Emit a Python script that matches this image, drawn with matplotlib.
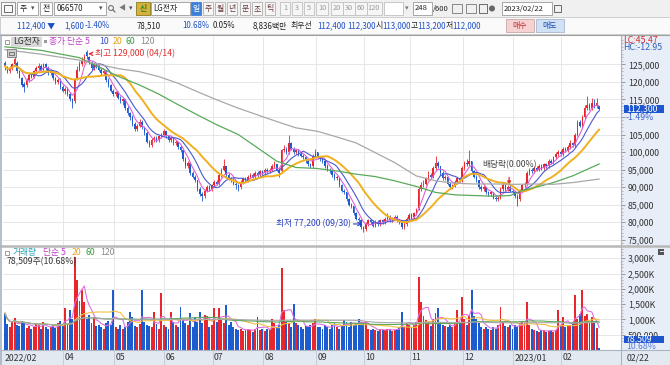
import numpy as np
import pandas as pd
import matplotlib
matplotlib.use('Agg')
import matplotlib.pyplot as plt
from matplotlib.patches import Rectangle, Circle
from matplotlib.ticker import MultipleLocator, FixedLocator, FuncFormatter

plt.rcParams['font.family'] = ['Noto Sans CJK KR', 'DejaVu Sans']
plt.rcParams['font.size'] = 6.5

# ---- daily candles (thousand won), 2022/02 ~ 2023/02/22, 248 bars ----
opens = [
    125.5, 124.0, 123.0, 124.0, 125.0, 125.5, 123.0, 121.0, 119.5, 119.0,
    120.5, 122.0, 121.5, 123.0, 124.0, 124.5, 123.5, 125.0, 124.0, 122.5,
    123.0, 121.0, 120.0, 120.5, 118.5, 117.5, 118.0, 116.5, 115.0, 114.5,
    121.0, 123.5, 125.0, 126.0, 128.5, 127.0, 125.5, 124.0, 125.0, 124.5,
    123.5, 122.5, 123.0, 120.5, 119.0, 117.5, 116.5, 117.0, 115.5, 114.5,
    115.0, 112.5, 111.0, 110.0, 108.0, 106.5, 107.5, 108.5, 107.0, 105.5,
    103.0, 102.0, 103.5, 104.0, 103.5, 104.5, 105.0, 106.0, 104.5, 103.5,
    104.0, 102.5, 103.0, 101.5, 100.5, 98.0, 96.0, 97.0, 94.0, 93.0,
    92.0, 89.5, 88.0, 87.5, 89.0, 90.0, 89.5, 90.5, 91.5, 91.0,
    93.5, 95.0, 96.0, 93.5, 92.5, 92.0, 91.0, 90.5, 90.0, 91.5,
    92.5, 92.0, 93.0, 93.5, 93.0, 94.0, 93.5, 94.5, 94.0, 95.0,
    94.5, 95.0, 96.0, 96.5, 95.0, 94.5, 100.5, 101.0, 100.0, 102.5,
    101.0, 100.0, 100.5, 99.5, 99.0, 98.5, 97.5, 96.5, 96.0, 99.0,
    100.0, 98.5, 98.0, 97.5, 96.0, 95.0, 94.5, 93.5, 92.5, 93.0,
    90.5, 89.0, 88.5, 86.5, 85.0, 84.5, 82.5, 81.0, 80.5, 78.5,
    78.0, 79.5, 80.5, 80.0, 79.0, 80.0, 79.5, 80.5, 80.0, 81.0,
    81.5, 80.5, 81.0, 81.5, 80.5, 80.0, 78.5, 79.5, 81.0, 82.0,
    81.5, 82.5, 84.0, 89.5, 90.5, 91.0, 92.5, 93.5, 93.0, 95.5,
    97.0, 96.0, 94.0, 92.5, 93.0, 91.0, 90.0, 90.5, 91.5, 92.5,
    92.0, 95.5, 97.0, 96.5, 97.5, 94.5, 93.0, 92.0, 90.0, 89.5,
    90.0, 88.5, 88.0, 88.5, 87.0, 86.5, 87.0, 89.5, 90.5, 89.5,
    90.0, 89.0, 88.5, 87.5, 86.5, 89.0, 90.5, 91.0, 94.0, 95.0,
    94.5, 95.5, 95.0, 96.0, 95.5, 96.5, 96.0, 97.5, 97.0, 98.5,
    99.5, 100.0, 99.5, 101.0, 100.5, 101.5, 102.5, 102.0, 105.0, 108.5,
    107.5, 110.0, 112.5, 113.5, 112.5, 114.0, 113.0, 113.0]
highs = [
    126.0, 124.5, 124.5, 125.5, 128.5, 126.0, 123.5, 121.5, 120.0, 121.0,
    122.5, 122.5, 123.5, 124.5, 125.5, 125.0, 125.5, 125.5, 124.5, 123.5,
    123.5, 121.5, 121.0, 121.0, 119.0, 118.5, 118.5, 117.0, 115.5, 121.0,
    124.5, 126.0, 127.0, 128.0, 129.0, 127.5, 126.0, 125.5, 125.5, 125.0,
    124.0, 123.5, 123.0, 121.0, 119.5, 118.0, 117.5, 117.5, 116.0, 115.5,
    115.0, 113.0, 111.5, 110.5, 108.5, 108.0, 109.5, 109.0, 107.5, 106.0,
    103.5, 104.0, 104.5, 104.5, 105.0, 105.5, 106.5, 106.0, 105.0, 104.5,
    104.0, 103.5, 103.0, 102.0, 100.5, 98.5, 97.5, 97.0, 94.5, 93.5,
    92.0, 90.0, 88.5, 89.5, 90.5, 90.5, 91.0, 92.0, 92.0, 94.0,
    95.5, 98.0, 96.0, 94.0, 93.0, 92.5, 91.5, 91.0, 92.0, 93.0,
    93.0, 93.5, 94.0, 94.0, 94.5, 94.5, 95.0, 95.0, 95.5, 95.5,
    95.5, 96.5, 97.5, 96.5, 95.5, 101.0, 102.0, 101.5, 105.0, 103.0,
    101.5, 101.0, 101.0, 100.0, 99.5, 99.0, 98.0, 97.0, 99.5, 101.0,
    100.0, 99.0, 98.5, 98.0, 96.5, 95.5, 95.0, 94.0, 93.5, 93.0,
    91.0, 89.5, 88.5, 87.0, 85.5, 84.5, 83.0, 81.5, 81.0, 79.0,
    80.0, 81.0, 81.0, 80.5, 80.5, 80.5, 81.0, 81.0, 81.5, 82.5,
    82.0, 81.5, 82.0, 82.0, 81.0, 80.5, 80.0, 81.5, 82.5, 82.5,
    83.0, 84.0, 90.0, 91.5, 92.0, 93.0, 94.5, 94.0, 96.0, 98.8,
    97.5, 96.0, 94.5, 93.5, 93.0, 91.5, 91.0, 92.0, 93.0, 93.0,
    96.0, 97.5, 98.0, 100.7, 97.5, 95.0, 93.5, 92.0, 90.5, 90.5,
    90.0, 89.0, 89.0, 88.5, 87.5, 87.5, 90.0, 91.5, 91.0, 90.5,
    90.5, 89.5, 89.0, 88.0, 89.5, 91.0, 91.5, 94.5, 95.5, 95.5,
    96.0, 96.0, 96.5, 96.5, 97.0, 97.0, 98.0, 98.0, 99.0, 100.0,
    100.5, 100.5, 101.5, 101.5, 102.0, 103.5, 103.0, 105.5, 109.0, 109.0,
    110.5, 113.5, 116.0, 114.0, 115.5, 115.0, 115.5, 113.2]
lows = [
    123.5, 122.5, 122.5, 123.5, 124.5, 122.5, 121.0, 118.5, 117.0, 118.5,
    120.0, 121.0, 121.0, 122.5, 123.5, 123.0, 123.0, 123.5, 122.0, 122.0,
    120.5, 119.5, 119.5, 118.0, 117.0, 116.5, 116.0, 114.5, 112.5, 114.0,
    120.5, 123.0, 124.5, 125.5, 126.5, 125.0, 123.5, 123.5, 124.0, 123.0,
    122.0, 122.0, 120.0, 118.5, 117.0, 116.0, 116.0, 115.0, 114.0, 113.5,
    112.0, 110.5, 109.0, 107.5, 106.0, 106.0, 107.0, 106.5, 105.0, 102.5,
    101.5, 101.5, 103.0, 103.0, 103.0, 104.0, 104.5, 104.0, 103.0, 103.0,
    102.0, 102.0, 101.0, 100.0, 97.5, 95.5, 95.5, 93.5, 92.5, 91.5,
    89.0, 87.5, 86.0, 87.0, 88.5, 89.0, 89.0, 90.0, 90.5, 90.5,
    93.0, 94.5, 93.0, 92.0, 91.5, 90.5, 89.5, 89.0, 89.5, 91.0,
    91.5, 91.5, 92.5, 92.5, 92.5, 93.0, 93.0, 93.5, 93.5, 94.0,
    94.0, 94.5, 95.5, 94.5, 93.0, 94.0, 100.0, 99.5, 99.5, 100.5,
    99.5, 99.5, 99.0, 98.5, 98.0, 97.0, 96.0, 95.5, 95.5, 98.5,
    98.0, 97.5, 97.0, 95.5, 94.5, 94.0, 93.0, 92.0, 92.0, 90.0,
    88.5, 88.0, 86.0, 84.5, 84.0, 82.0, 80.5, 80.0, 78.0, 77.2,
    77.5, 79.0, 79.5, 78.5, 78.5, 79.0, 79.0, 79.5, 79.5, 80.5,
    80.0, 80.0, 80.5, 80.0, 79.5, 78.0, 78.0, 79.0, 80.5, 81.0,
    81.0, 82.0, 83.5, 89.0, 90.0, 90.5, 92.0, 92.5, 92.5, 95.0,
    95.5, 93.5, 92.0, 92.0, 90.5, 89.5, 89.5, 90.0, 91.0, 91.5,
    91.5, 95.0, 96.0, 96.0, 94.0, 92.5, 91.5, 89.5, 89.0, 89.0,
    88.0, 87.5, 87.5, 86.5, 86.0, 86.0, 86.5, 89.0, 89.0, 89.0,
    88.5, 88.0, 87.0, 84.7, 86.0, 88.5, 90.0, 90.5, 93.5, 94.0,
    94.0, 94.5, 94.5, 95.0, 95.0, 95.5, 95.5, 96.5, 96.5, 98.0,
    99.0, 99.0, 99.0, 100.0, 100.0, 101.0, 101.5, 101.5, 104.5, 107.0,
    107.0, 109.5, 112.0, 112.0, 112.0, 112.5, 112.5, 112.0]
closes = [
    124.5, 123.0, 124.0, 125.0, 126.5, 123.0, 121.5, 119.0, 118.5, 120.5,
    122.0, 121.5, 123.0, 124.0, 124.5, 123.5, 125.0, 124.0, 122.5, 123.0,
    121.0, 120.0, 120.5, 118.5, 117.5, 118.0, 116.5, 115.0, 114.0, 120.5,
    123.5, 125.0, 126.0, 127.0, 127.5, 125.5, 124.0, 125.0, 124.5, 123.5,
    122.5, 123.0, 120.5, 119.0, 117.5, 116.5, 117.0, 115.5, 114.5, 115.0,
    112.5, 111.0, 110.0, 108.0, 106.5, 107.5, 108.5, 107.0, 105.5, 103.0,
    102.0, 103.5, 104.0, 103.5, 104.5, 105.0, 106.0, 104.5, 103.5, 104.0,
    102.5, 103.0, 101.5, 100.5, 98.0, 96.0, 97.0, 94.0, 93.0, 92.0,
    89.5, 88.0, 87.5, 89.0, 90.0, 89.5, 90.5, 91.5, 91.0, 93.5,
    95.0, 96.0, 93.5, 92.5, 92.0, 91.0, 90.5, 90.0, 91.5, 92.5,
    92.0, 93.0, 93.5, 93.0, 94.0, 93.5, 94.5, 94.0, 95.0, 94.5,
    95.0, 96.0, 96.5, 95.0, 94.0, 100.5, 101.0, 100.0, 102.5, 101.0,
    100.0, 100.5, 99.5, 99.0, 98.5, 97.5, 96.5, 96.0, 99.0, 100.0,
    98.5, 98.0, 97.5, 96.0, 95.0, 94.5, 93.5, 92.5, 93.0, 90.5,
    89.0, 88.5, 86.5, 85.0, 84.5, 82.5, 81.0, 80.5, 78.5, 78.0,
    79.5, 80.5, 80.0, 79.0, 80.0, 79.5, 80.5, 80.0, 81.0, 81.5,
    80.5, 81.0, 81.5, 80.5, 80.0, 78.5, 79.5, 81.0, 82.0, 81.5,
    82.5, 83.5, 89.5, 90.5, 91.0, 92.5, 93.5, 93.0, 95.5, 97.0,
    96.0, 94.0, 92.5, 93.0, 91.0, 90.0, 90.5, 91.5, 92.5, 92.0,
    95.5, 97.0, 96.5, 97.5, 94.5, 93.0, 92.0, 90.0, 89.5, 90.0,
    88.5, 88.0, 88.5, 87.0, 86.5, 87.0, 89.5, 90.5, 89.5, 90.0,
    89.0, 88.5, 87.5, 86.5, 89.0, 90.5, 91.0, 94.0, 95.0, 94.5,
    95.5, 95.0, 96.0, 95.5, 96.5, 96.0, 97.5, 97.0, 98.5, 99.5,
    100.0, 99.5, 101.0, 100.5, 101.5, 102.5, 102.0, 105.0, 108.5, 107.5,
    110.0, 112.5, 113.5, 112.5, 114.0, 113.0, 113.9, 112.3]
# volume, thousand shares
volume = [
    1200, 850, 760, 900, 1050, 820, 780, 950, 880, 720,
    800, 690, 760, 880, 820, 700, 900, 760, 680, 740,
    810, 720, 880, 960, 790, 1360, 850, 1300, 1020, 3050,
    2290, 1600, 1960, 1580, 1020, 1150, 880, 1090, 780, 820,
    760, 700, 880, 940, 820, 1960, 760, 700, 820, 690,
    760, 900, 1250, 1090, 800, 760, 860, 1960, 900, 820,
    800, 760, 1250, 860, 700, 1850, 820, 760, 690, 1250,
    900, 820, 760, 1420, 980, 880, 820, 1200, 760, 1090,
    900, 1250, 880, 1150, 1100, 760, 820, 1360, 900, 1360,
    980, 880, 1470, 820, 900, 760, 700, 640, 690, 620,
    660, 700, 640, 600, 680, 1090, 640, 700, 620, 690,
    660, 1000, 880, 760, 820, 2670, 1300, 930, 880, 760,
    1520, 880, 820, 760, 700, 800, 760, 820, 880, 1030,
    760, 760, 700, 820, 760, 700, 820, 880, 760, 700,
    820, 980, 900, 760, 930, 820, 880, 1030, 900, 870,
    900, 700, 640, 700, 660, 620, 700, 660, 640, 700,
    680, 620, 660, 700, 760, 1250, 760, 870, 820, 760,
    820, 900, 2400, 1580, 1100, 980, 900, 800, 1020, 1200,
    1360, 900, 820, 800, 760, 820, 760, 880, 1300, 900,
    1740, 1000, 820, 1100, 1960, 1100, 1030, 880, 760, 700,
    760, 700, 660, 760, 700, 820, 1420, 900, 800, 760,
    820, 700, 820, 760, 880, 900, 880, 1580, 820, 700,
    640, 620, 600, 640, 660, 600, 620, 660, 600, 640,
    1300, 820, 1090, 760, 820, 820, 900, 1800, 1000, 1180,
    1960, 1100, 1180, 900, 1080, 880, 730, 78.5]

# 60 / 120 day price averages (bar index, thousand won)
ma60_idx = [0, 15, 31, 39, 47, 56, 64, 72, 80, 88, 97, 105, 113, 121, 130,
            138, 146, 154, 162, 171, 179, 187, 195, 203, 210, 215, 222, 228, 236, 247]
ma60_val = [130.0, 129.0, 126.9, 124.3, 121.6, 119.1, 116.5, 113.5, 110.6, 107.8,
            105.0, 101.2, 97.4, 95.6, 95.3, 94.6, 93.7, 93.0, 91.8, 90.2,
            88.5, 87.8, 87.6, 87.4, 87.6, 89.0, 90.2, 91.3, 93.2, 96.6]
ma120_idx = [0, 15, 31, 39, 47, 56, 64, 72, 80, 88, 97, 105, 113, 121, 130,
             138, 146, 154, 162, 171, 179, 187, 195, 203, 212, 220, 228, 236, 247]
ma120_val = [129.2, 127.9, 126.2, 125.0, 123.8, 122.9, 121.5, 119.6, 117.2, 114.9,
             112.5, 110.6, 108.7, 106.9, 105.9, 104.3, 102.6, 99.8, 97.0, 93.2,
             91.8, 91.1, 90.9, 90.9, 90.8, 90.9, 90.8, 91.3, 92.3]

month_idx = [25, 46, 67, 87, 108, 130, 150, 169, 191, 212, 232]
month_lbl = ['04', '05', '06', '07', '08', '09', '10', '11', '12', '2023/01', '02']

price_ticks = [75000, 80000, 85000, 90000, 95000, 100000, 105000, 110000,
               115000, 120000, 125000]
hidden_tick = 110000   # sits under the current-price marker
vol_ticks = [500000, 1000000, 1500000, 2000000, 2500000, 3000000]
vol_tick_lbl = ['500,000', '1,000K', '1,500K', '2,000K', '2,500K', '3,000K']

o = np.array(opens) * 1000
h = np.array(highs) * 1000
l = np.array(lows) * 1000
c = np.array(closes) * 1000
v = np.array(volume) * 1000
n = len(c)
x = np.arange(n)

RED = '#e8262b'
BLUE = '#1c5ccf'
up = c >= o
cols = np.where(up, RED, BLUE)

W, H = 670, 365
LEFT, RIGHT = 3, 621
P_TOP, P_BOT = 37, 245
V_TOP, V_BOT = 247, 350
XMIN, XMAX = -0.8, 256.1
PMIN, PMAX = 73500, 132800
VMAX = 3370000
RP = '#e8eef7'

fig = plt.figure(figsize=(W / 100, H / 100), dpi=100)
fig.patch.set_facecolor('#f0f0f0')


def px_axes(x0, y0, x1, y1, z):
    a = fig.add_axes([x0 / W, 1 - y1 / H, (x1 - x0) / W, (y1 - y0) / H])
    a.set_zorder(z)
    return a


def box(a, x0, y0, x1, y1, fc, ec='none', lw=0.6):
    a.add_patch(Rectangle((x0, y0), x1 - x0, y1 - y0, fc=fc, ec=ec, lw=lw))


def txt(a, xx, yy, s, color='#222222', ha='left', size=6.3, **kw):
    a.text(xx, yy, s, color=color, ha=ha, va='center', fontsize=size, **kw)


def xpx(i):
    return LEFT + (i - XMIN) / (XMAX - XMIN) * (RIGHT - LEFT)


def ppx(p):
    return P_TOP + (PMAX - p) / (PMAX - PMIN) * (P_BOT - P_TOP)


# background / toolbar
bg = px_axes(0, 0, W, H, 0)
bg.set_xlim(0, W)
bg.set_ylim(H, 0)
bg.axis('off')

box(bg, 0, 17, W, 34, '#fafafa', '#c8c8c8')
box(bg, 0, 35, RIGHT, V_BOT, 'white')
box(bg, RIGHT, 35, W, V_BOT, RP)
box(bg, 0, V_BOT, W, H, '#e3e9f1')

FB = '#1d4fc4'
TS = 5.7
# row 1
box(bg, 1, 2, 15, 15, '#f8f8f8', '#888888')
box(bg, 4, 5, 12, 12, 'none', '#555555')
box(bg, 17, 2, 38, 15, 'white', '#9a9a9a')
txt(bg, 20, 8.5, '주', size=TS)
txt(bg, 31, 8.5, '▾', size=5, color='#555555')
box(bg, 40, 2, 52, 15, 'white', '#9a9a9a')
txt(bg, 42.5, 8.5, '전', size=TS)
box(bg, 54, 2, 106, 15, 'white', '#9a9a9a')
txt(bg, 57, 8.5, '066570', size=TS)
txt(bg, 99, 8.5, '▾', size=5, color='#555555')
bg.add_patch(Circle((111, 8), 2.4, fc='none', ec='#666666', lw=0.7))
bg.plot([112.8, 115], [9.8, 12], color='#666666', lw=0.8)
txt(bg, 119, 8.5, '◀', size=5, color='#777777')
txt(bg, 129, 8.5, '▾', size=5, color='#555555')
box(bg, 136, 2, 150, 15, '#d7b23a', '#8a7a20')
txt(bg, 143, 8.5, '신', ha='center', color='#2f7f2f', weight='bold', size=TS)
box(bg, 151, 2, 190, 15, 'white', '#9a9a9a')
txt(bg, 153, 8.5, 'LG전자', size=TS)
box(bg, 191, 2, 201, 15, '#3d7fd9', '#3d7fd9')
txt(bg, 196, 8.5, '일', ha='center', color='white', size=TS)
for s, x0 in zip(['주', '월', '년', '분', '초', '틱'], [203, 215, 227, 240, 252, 265]):
    box(bg, x0, 2, x0 + 10, 15, '#f6f6f6', '#b0b0b0')
    txt(bg, x0 + 5, 8.5, s, ha='center', color='#6a3a3a', size=TS)
for s, cx, wd in zip(['1', '3', '5', '10', '20', '30', '60', '120'],
                     [285, 297, 309, 322, 337, 349, 361, 374],
                     [10, 10, 10, 12, 12, 12, 12, 15]):
    box(bg, cx - wd / 2, 2, cx + wd / 2, 15, '#f6f6f6', '#c0c0c0')
    txt(bg, cx, 8.5, s, ha='center', color='#9a9a9a', size=5.3)
box(bg, 384, 2, 403, 15, 'white', '#c0c0c0')
txt(bg, 405, 8.5, '▾', size=5, color='#777777')
box(bg, 413, 2, 432, 15, 'white', '#9a9a9a')
txt(bg, 415, 8.5, '248', size=5.5)
txt(bg, 433, 8.5, '/600', size=5.5)
box(bg, 452, 4, 462, 13, 'none', '#777777')
box(bg, 466, 4, 476, 13, 'none', '#777777')
box(bg, 479, 4, 487, 13, 'none', '#555555')
bg.add_patch(Circle((492, 8.5), 3, fc='#666666', ec='none'))
box(bg, 502, 2, 552, 15, 'white', '#9a9a9a')
txt(bg, 504, 8.5, '2023/02/22', size=5.5)
box(bg, 554, 4.5, 561, 12, 'none', '#555555')

# row 2
txt(bg, 17, 25.5, '112,400 ▼', color=FB, size=TS)
txt(bg, 64, 25.5, '1,600', color=FB, size=TS)
txt(bg, 85, 25.5, '-1.40%', color=FB, size=TS)
txt(bg, 137, 25.5, '78,510', size=TS)
txt(bg, 182, 25.5, '10.68%', color=FB, size=TS)
txt(bg, 213, 25.5, '0.05%', size=TS)
txt(bg, 253, 25.5, '8,836백만', size=TS)
txt(bg, 291, 25.5, '최우선', size=TS)
txt(bg, 317, 25.5, '112,400', color=FB, size=TS)
txt(bg, 347, 25.5, '112,300', color=FB, size=TS)
txt(bg, 375.5, 25.5, '시', size=TS)
txt(bg, 382, 25.5, '113,000', color=FB, size=TS)
txt(bg, 410.5, 25.5, '고', size=TS)
txt(bg, 417, 25.5, '113,200', color=FB, size=TS)
txt(bg, 445.5, 25.5, '저', size=TS)
txt(bg, 452, 25.5, '112,000', color=FB, size=TS)
box(bg, 506, 19, 534, 32, '#f6d2d2', '#c8a8a8')
txt(bg, 520, 25.5, '매수', ha='center', color='#c03030', size=TS)
box(bg, 536, 19, 564, 32, '#d0e1f6', '#a8b8cc')
txt(bg, 550, 25.5, '매도', ha='center', color='#2050b0', size=TS)

# ---- price panel ----
axp = px_axes(LEFT, P_TOP, RIGHT, P_BOT, 2)
axp.set_facecolor('white')
axp.set_xlim(XMIN, XMAX)
axp.set_ylim(PMIN, PMAX)
for sp in axp.spines.values():
    sp.set_visible(False)
axp.set_xticks([])
axp.yaxis.tick_right()
axp.yaxis.set_major_locator(FixedLocator(price_ticks))
axp.yaxis.set_minor_locator(MultipleLocator(1000))
axp.yaxis.set_major_formatter(
    FuncFormatter(lambda val, pos: '' if val == hidden_tick else f'{val:,.0f}'))
axp.tick_params(axis='y', which='major', length=3, width=0.6, color='#8a8a8a',
                labelsize=6.3, labelcolor='#333333', pad=2)
axp.tick_params(axis='y', which='minor', length=1.5, width=0.5, color='#a0a0a0')
axp.grid(axis='y', color='#e3e3e3', lw=0.6)
axp.set_axisbelow(True)
for mi in month_idx:
    axp.axvline(mi - 0.7, color='#e3e3e3', lw=0.6, zorder=0)

axp.vlines(x, l, h, colors=cols, lw=0.6, zorder=2)
body = np.maximum(np.abs(c - o), 150)
axp.bar(x, body, bottom=np.minimum(o, c), width=0.62, color=cols, lw=0, zorder=3)

cs = pd.Series(c)
axp.plot(x, cs.rolling(5, min_periods=1).mean(), color='#e060d8', lw=0.8, zorder=4)
axp.plot(x, cs.rolling(10, min_periods=1).mean(), color='#4a58d0', lw=0.8, zorder=4)
axp.plot(x, cs.rolling(20, min_periods=1).mean(), color='#f0b020', lw=1.4, zorder=4)
axp.plot(ma60_idx, np.array(ma60_val) * 1000, color='#5aaa5a', lw=0.9, zorder=4)
axp.plot(ma120_idx, np.array(ma120_val) * 1000, color='#a8a8a8', lw=0.9, zorder=4)

hi_i = int(np.argmax(h))
lo_i = int(np.argmin(l))
axp.annotate(f'최고 {h[hi_i]:,.0f} (04/14)', xy=(hi_i + 0.6, 128000),
             xytext=(hi_i + 3.4, 128000),
             color='#e03030', fontsize=6.3, va='center', ha='left',
             arrowprops=dict(arrowstyle='->', color='#e03030', lw=0.8, shrinkA=0, shrinkB=0))
axp.annotate(f'최저 {l[lo_i]:,.0f} (09/30)', xy=(lo_i - 0.4, 79500),
             xytext=(lo_i - 5.3, 79500),
             color='#2a40c0', fontsize=6.3, va='center', ha='right',
             arrowprops=dict(arrowstyle='->', color='#2a40c0', lw=0.8, shrinkA=0, shrinkB=0))
axp.text(209.6, 96300, '배당락(0.00%)', color='#444444', fontsize=6.3, ha='center', va='center')
axp.annotate('', xy=(209.6, 90600), xytext=(209.6, 92800),
             arrowprops=dict(arrowstyle='-|>', color='#e03030', lw=0.9,
                             mutation_scale=5, shrinkA=0, shrinkB=0))

# ---- volume panel ----
axv = px_axes(LEFT, V_TOP, RIGHT, V_BOT, 2)
axv.set_facecolor('white')
axv.set_xlim(XMIN, XMAX)
axv.set_ylim(0, VMAX)
for sp in axv.spines.values():
    sp.set_visible(False)
axv.set_xticks([])
axv.yaxis.tick_right()
axv.set_yticks(vol_ticks)
axv.set_yticklabels(vol_tick_lbl)
axv.yaxis.set_minor_locator(MultipleLocator(100000))
axv.tick_params(axis='y', which='major', length=3, width=0.6, color='#8a8a8a',
                labelsize=6.3, labelcolor='#333333', pad=2)
axv.tick_params(axis='y', which='minor', length=1.5, width=0.5, color='#a0a0a0')
axv.grid(axis='y', color='#e3e3e3', lw=0.6)
axv.set_axisbelow(True)
for mi in month_idx:
    axv.axvline(mi - 0.7, color='#e3e3e3', lw=0.6, zorder=0)
axv.bar(x, v, width=0.8, color=cols, lw=0, zorder=2)
vs = pd.Series(v)
axv.plot(x, vs.rolling(5, min_periods=1).mean(), color='#e070e0', lw=0.8, zorder=3)
axv.plot(x, vs.rolling(20, min_periods=1).mean(), color='#f0c040', lw=0.8, zorder=3)
axv.plot(x, vs.rolling(60, min_periods=1).mean(), color='#5aaa5a', lw=0.8, zorder=3)
axv.plot(x, vs.rolling(120, min_periods=1).mean(), color='#a8a8a8', lw=0.8, zorder=3)

# ---- overlay texts and frame ----
ov = px_axes(0, 0, W, H, 10)
ov.set_xlim(0, W)
ov.set_ylim(H, 0)
ov.axis('off')

ov.plot([0, W], [35, 35], color='#a0a0a0', lw=0.8)
ov.plot([0, W], [246, 246], color='#b8b8b8', lw=1.8)
ov.plot([0, W], [V_BOT, V_BOT], color='#aab4c2', lw=0.8)
ov.plot([RIGHT, RIGHT], [35, H], color='#a8b4c4', lw=0.8)
ov.plot([1, 1], [35, H], color='#a8b4c4', lw=1.2)

# price legend
box(ov, 4.5, 39.5, 8.5, 43.5, 'white', '#777777', lw=0.5)
box(ov, 11, 37, 42, 46.5, '#d8d8d8')
txt(ov, 13, 41.5, 'LG전자', color='#333333')
box(ov, 44, 40, 47, 43, '#999999')
txt(ov, 49, 41.5, '종가 단순 5', color='#c040c8')
txt(ov, 99, 41.5, '10', color='#3a50c8')
txt(ov, 113, 41.5, '20', color='#e8a418')
txt(ov, 126, 41.5, '60', color='#3a9a3a')
txt(ov, 140, 41.5, '120', color='#8a8a8a')
box(ov, 7, 49, 16, 57, '#cfcfcf', '#666666', lw=0.5)
box(ov, 9, 51.5, 14, 54.5, 'none', '#555555', lw=0.5)

# volume legend
box(ov, 4.5, 250.7, 8.5, 254.7, 'white', '#777777', lw=0.5)
txt(ov, 13, 252.7, '거래량', color='#2aa0b0')
txt(ov, 43, 252.7, '단순 5', color='#c040c8')
txt(ov, 72, 252.7, '20', color='#e8a418')
txt(ov, 85, 252.7, '60', color='#3a9a3a')
txt(ov, 100, 252.7, '120', color='#8a8a8a')
txt(ov, 7, 261.7, '78,509주(10.68%)', color='#333333')

# right panel
txt(ov, 623, 40.5, 'LC:45.47', color='#d03030')
txt(ov, 623, 48, 'HC:-12.95', color='#3060c0')
yl = ppx(c[-1])
box(ov, 624, yl - 4, 664, yl + 4, '#1f55cf')
txt(ov, 626, yl, f'{c[-1]:,.0f}', color='white')
txt(ov, 626, yl + 8.5, '-1.49%', color='#3a60d0')
box(ov, 622, 341.5, 668, 350, RP)
box(ov, 624, 335.5, 664, 342.5, '#1f55cf')
txt(ov, 626, 339, '78,509', color='white')
txt(ov, 626, 346.5, '10.68%', color='#5a7ad8')
box(ov, 658, 248.5, 664, 254.5, '#555555')
ov.plot([659.5, 662.5], [250.5, 250.5], color='white', lw=0.6)

# date row
txt(ov, xpx(0), 357.5, '2022/02', color='#333333')
for mi, s in zip(month_idx, month_lbl):
    txt(ov, xpx(mi - 0.7) + 1.5, 357.5, s, color='#333333')
    ov.plot([xpx(mi - 0.7)] * 2, [V_BOT, H], color='#c0c8d4', lw=0.6)
txt(ov, 627, 357.5, '02/22', color='#333333')

fig.savefig('out.png', dpi=100, facecolor=fig.get_facecolor())
